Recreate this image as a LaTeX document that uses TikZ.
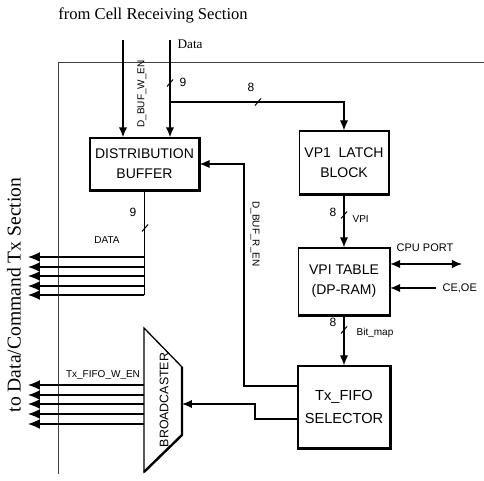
\documentclass[tikz,border=0pt]{standalone}
\usepackage{fontspec}
\setmainfont{Liberation Serif}
\setsansfont{Liberation Sans}
\usetikzlibrary{arrows.meta}
\newcommand\busmark[1]{\draw[line width=0.5pt] ([shift={(-3,3.5)}]#1) -- ++(6,-7);}
\newcommand\heavyedge[1]{\draw[line width=1.1pt] (#1.north east) -- (#1.south east) -- (#1.south west);}

\begin{document}
\begin{tikzpicture}[x=0.5pt,y=-0.5pt,>={Latex[length=5pt,width=4.2pt]},line width=0.65pt,
    blk/.style={draw,fill=white,font=\fontsize{7}{10}\sffamily,align=center,inner sep=0pt},
    tag/.style={font=\fontsize{5}{6}\sffamily,inner sep=1pt},
    num/.style={font=\fontsize{6}{7}\sffamily,inner sep=1pt},
    port/.style={font=\fontsize{5.5}{6.5}\sffamily,inner sep=1pt},
    frame/.style={line width=0.4pt,black!75},
    outarrow/.style={->,>={Latex[length=6pt,width=5pt]}}]
  \useasboundingbox (0,0) rectangle (484,481);

  \draw[frame] (484,62) -- (58,62) -- (58,474);

  \node[blk,minimum width=54.5pt,minimum height=26pt] (db) at (144.5,164) {DISTRIBUTION\\BUFFER};
  \node[blk,minimum width=44.5pt,minimum height=31.5pt] (latch) at (344,162.5) {VP1\ \ LATCH\\BLOCK};
  \node[blk,minimum width=45.5pt,minimum height=33.5pt] (table) at (344,281.5) {VPI TABLE\\(DP-RAM)};
  \node[blk,minimum width=46pt,minimum height=41pt,font=\fontsize{7.3}{11.5}\sffamily] (sel) at (344,407) {Tx\_FIFO\\SELECTOR};
  \heavyedge{db}
  \heavyedge{latch}
  \heavyedge{table}
  \heavyedge{sel}

  \draw[fill=white] (144,328) -- (182,367) -- (182,435) -- (144,472) -- cycle;
  \draw[line width=1.2pt] (182,367) -- (182,435) -- (144,472);
  \node[font=\fontsize{6.2}{7}\sffamily,rotate=90] (bc) at (164,400) {BROADCASTER};
  \coordinate (bcin) at (182,404);
  \coordinate (bcl) at (144,0);

  \coordinate (wen) at (123,40);
  \coordinate (din) at (170,40);
  \coordinate (dsplit) at (170,102);
  \draw[->,line width=0.8pt] (wen) -- (wen |- db.north);
  \draw[->,line width=0.8pt] (din) -- (din |- db.north);
  \draw[->] (dsplit) -| (latch.north);
  \draw[->] (latch.south) -- (table.north);
  \draw[->] (table.south) -- (sel.north);

  \coordinate (rlev) at (0,386);
  \coordinate (rbend) at (244,164);
  \draw[->] (sel.west |- rlev) -| (rbend) -- (db.east);
  \coordinate (tlev) at (0,419);
  \coordinate (tbend) at (255,404);
  \draw[->] (sel.west |- tlev) -| (tbend) -- (bcin);

  \coordinate (cpu) at (462,264);
  \draw[<->] (cpu -| table.east) -- (cpu);
  \node[port] (cpulbl) at (425,248) {CPU PORT};
  \node[port,anchor=west,inner sep=3pt] (ceoe) at (436,288) {CE,OE};
  \draw[->] (ceoe.west) -- (ceoe.west -| table.east);

  \coordinate (dbus) at (0,295);
  \draw (db.south) -- (db.south |- dbus);
  \foreach \y in {257,267,276,286,295} {
    \coordinate (dout) at (28,\y);
    \draw[outarrow] (db.south |- dout) -- (dout);
  }
  \foreach \y in {385,395,404,414,424} {
    \coordinate (bout) at (28,\y);
    \draw[outarrow] (bcl |- bout) -- (bout);
  }

  \busmark{170,83}
  \busmark{258,102}
  \busmark{344,215}
  \busmark{344,330}
  \busmark{145,228}

  \node[font=\fontsize{8.3}{10}\selectfont] (title) at (153,15) {from Cell Receiving Section};
  \node[font=\fontsize{6.6}{8}\selectfont,anchor=west,inner sep=0pt] (datalbl) at (177,44) {Data};
  \node[tag,rotate=90] (wenlbl) at (142,94) {D\_BUF\_W\_EN};
  \node[num] (ninea) at (183,82) {9};
  \node[num] (eighta) at (251,87) {8};
  \node[num] (eightb) at (333,212) {8};
  \node[tag,anchor=west] (vpilbl) at (350,219) {VPI};
  \node[num] (eightc) at (333,322) {8};
  \node[tag] (maplbl) at (375,333) {Bit\_map};
  \node[num] (nineb) at (133,212) {9};
  \node[tag] (datatag) at (107,240) {DATA};
  \node[tag,rotate=-90] (renlbl) at (255,234) {D\_BUF\_R\_EN};
  \node[tag] (twlbl) at (103,375) {Tx\_FIFO\_W\_EN};
  \node[font=\fontsize{9.8}{11}\selectfont,rotate=90] (txlbl) at (14,295) {to Data/Command Tx Section};
\end{tikzpicture}
\end{document}
